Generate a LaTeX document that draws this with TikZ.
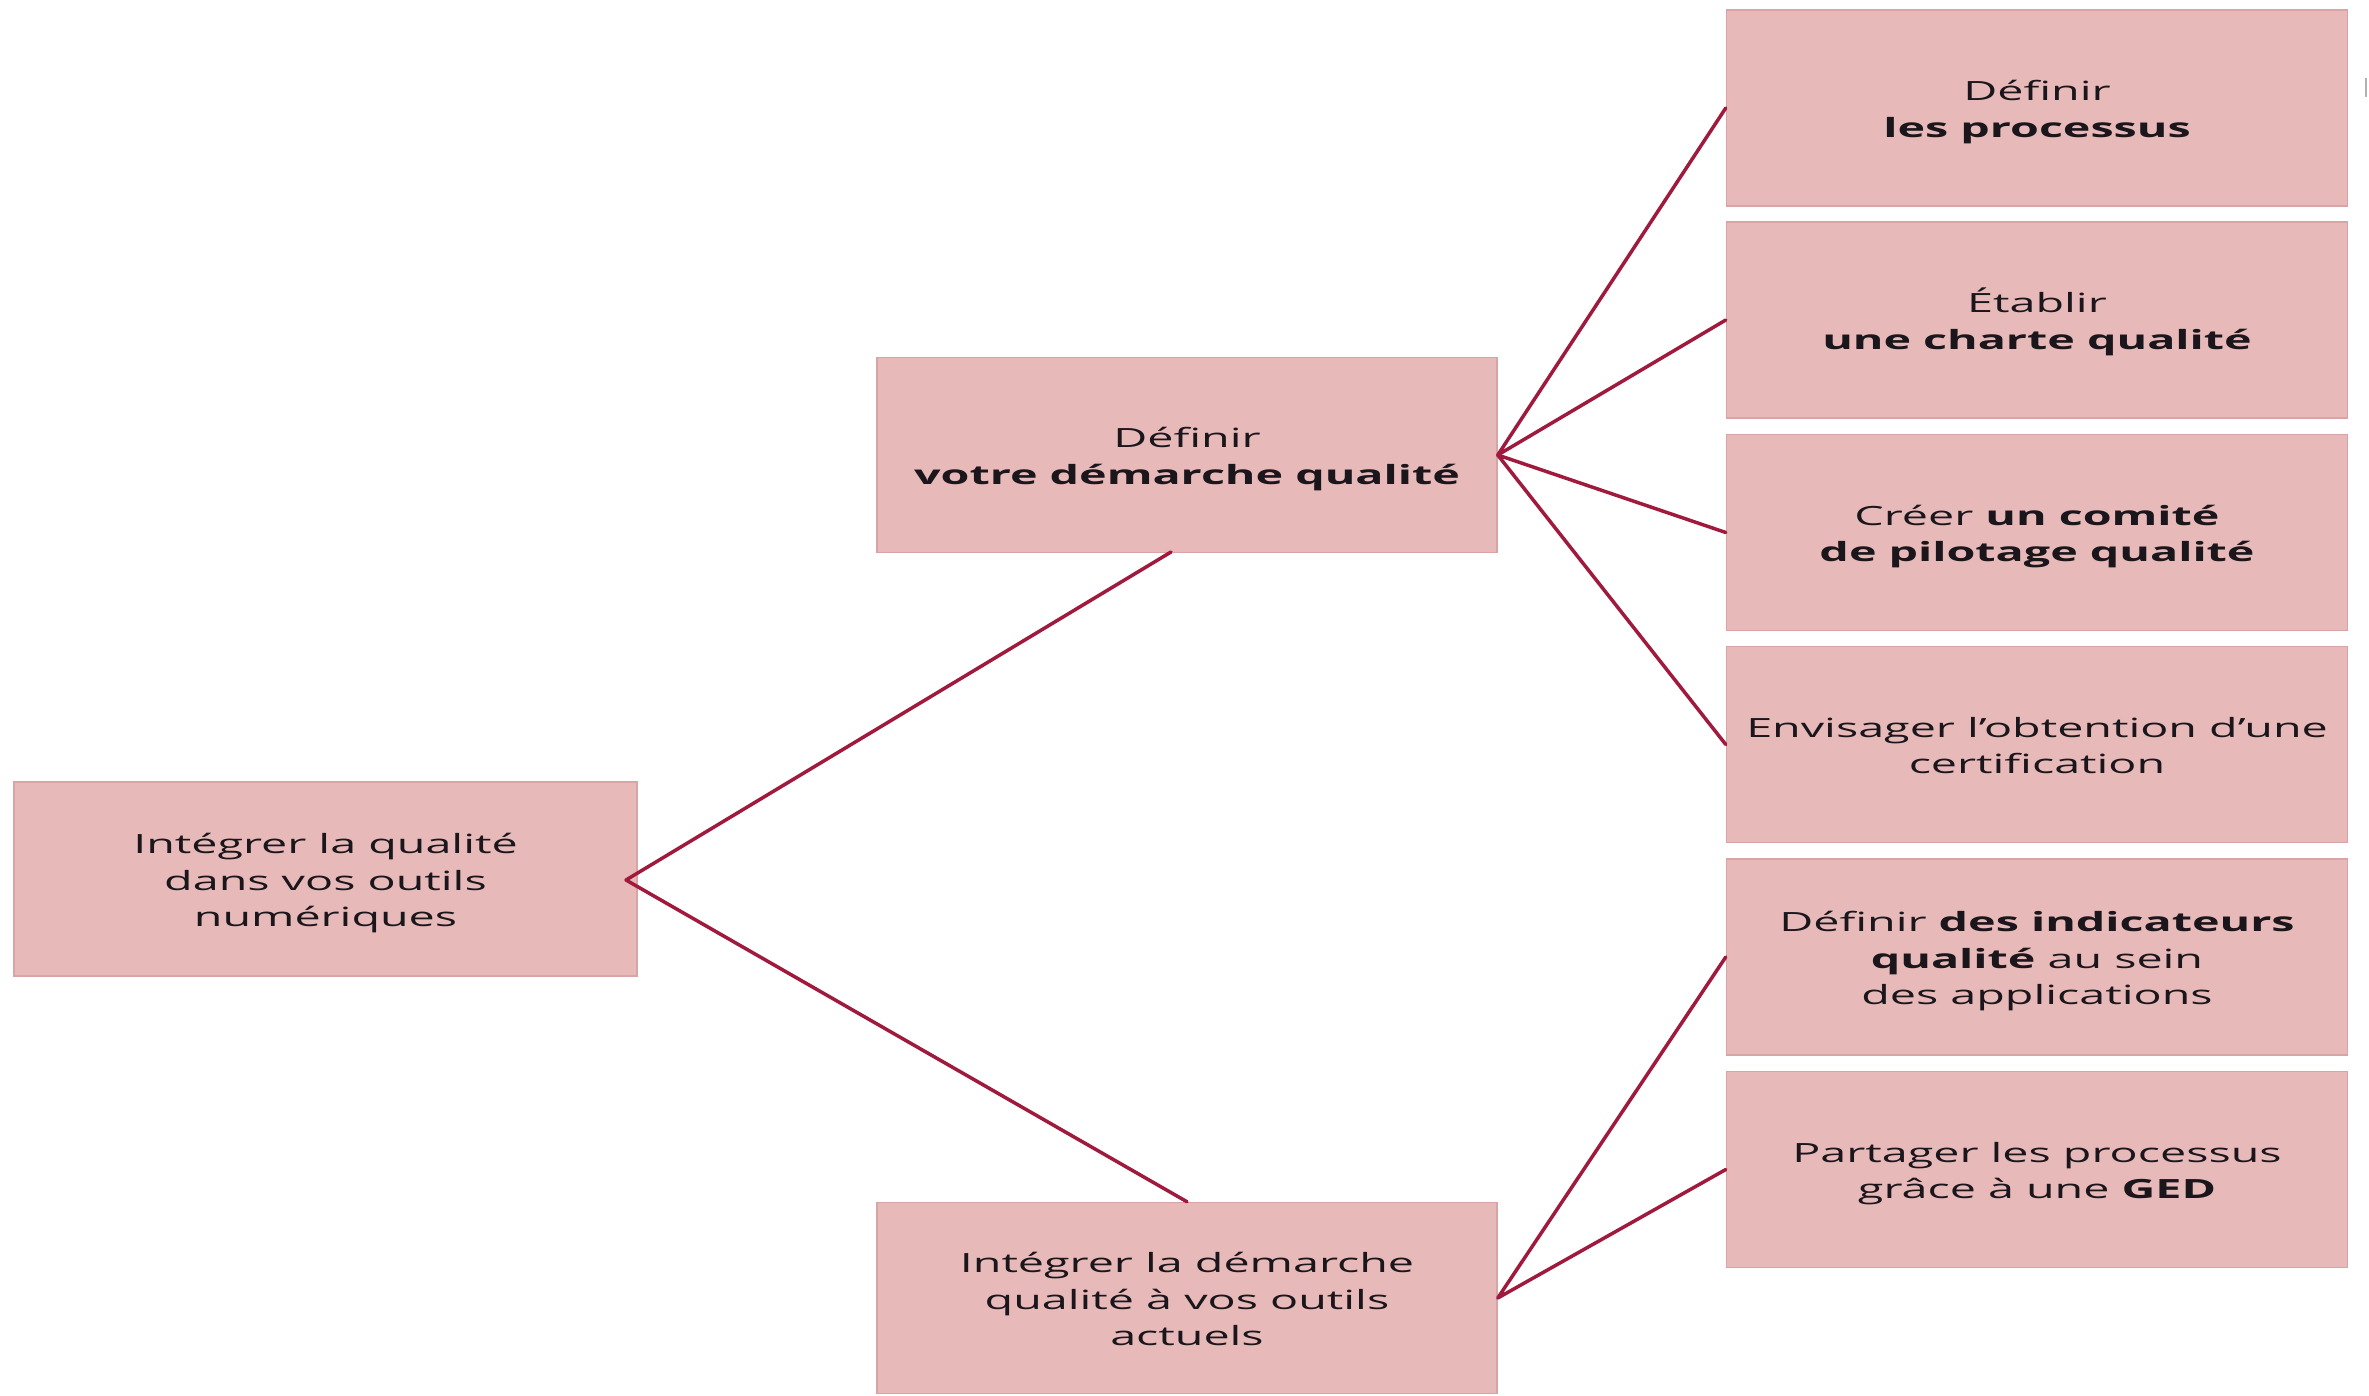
\documentclass[tikz,border=0pt]{standalone}
\usepackage{fontspec}
\setmainfont{Open Sans}[FakeStretch=1.76]
\definecolor{boxfill}{HTML}{E7BAB9}
\definecolor{boxborder}{HTML}{D9A4A5}
\definecolor{linkcol}{HTML}{A01A3E}
\definecolor{textcol}{HTML}{1A161C}
\newcommand\boxfont{\fontsize{26.5}{36.3}\selectfont}
% struts that give every text block the same top and bottom
\newcommand\topstrut{\rule{0pt}{30pt}}
\newcommand\botstrut{\rule[-8pt]{0pt}{8pt}}
\begin{document}
\begin{tikzpicture}[x=1pt, y=-1pt,
  box/.style={draw=boxborder, line width=1.5pt, fill=boxfill,
    minimum width=621pt, minimum height=196pt, inner sep=0pt,
    align=center, font=\boxfont, text=textcol},
  link/.style={draw=linkcol, line width=3.5pt, line cap=round, line join=round}]
\useasboundingbox (0,0) rectangle (2369,1395);

% root
\node[box, minimum width=623pt, minimum height=194pt] (root) at (325.5,879)
  {\topstrut Intégrer la qualité\\dans vos outils\\numériques\botstrut};

% second level
\node[box, minimum width=620pt, minimum height=195pt] (plan) at (1187,455)
  {\topstrut Définir\\\textbf{votre démarche qualité}\botstrut};
\node[box, minimum width=620pt, minimum height=191pt] (tools) at (1187,1298)
  {\topstrut Intégrer la démarche\\qualité à vos outils\\actuels\botstrut};

% third level
\node[box] (p1) at (2037,108) {\topstrut Définir\\\textbf{les processus}\botstrut};
\node[box] (p2) at (2037,320) {\topstrut Établir\\\textbf{une charte qualité}\botstrut};
\node[box] (p3) at (2037,532.5) {\topstrut Créer \textbf{un comité}\\\textbf{de pilotage qualité}\botstrut};
\node[box] (p4) at (2037,744.5) {\topstrut Envisager l’obtention d’une\\certification\botstrut};
\node[box] (t1) at (2037,957) {\topstrut Définir \textbf{des indicateurs}\\\textbf{qualité} au sein\\des applications\botstrut};
\node[box] (t2) at (2037,1169.5) {\topstrut Partager les processus\\grâce à une \textbf{GED}\botstrut};

% branching points
\coordinate (rootapex) at (626,880);
\coordinate (planfoot) at (1171,552);

\draw[link] (planfoot) -- (rootapex) -- (tools.north);
\draw[link] (p1.west) -- (plan.east) -- (p2.west);
\draw[link] (p3.west) -- (plan.east) -- (p4.west);
\draw[link] (t1.west) -- (tools.east) -- (t2.west);

% small mark at the right edge
\draw[gray!60, line width=2.5pt] (2366,78) -- (2366,97);
\end{tikzpicture}
\end{document}
